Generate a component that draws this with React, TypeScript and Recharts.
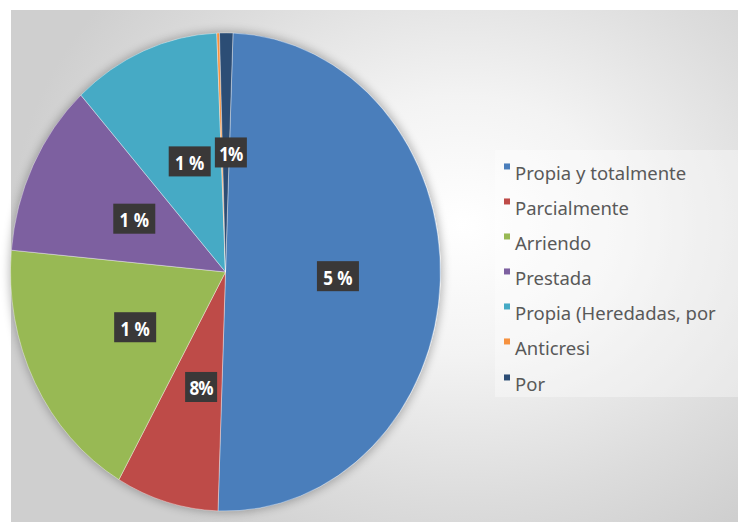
import { PieChart, Pie, Cell, Legend } from "recharts";

// Tenencia de vivienda (in %)
const categories = [
  "Propia y totalmente",
  "Parcialmente",
  "Arriendo",
  "Prestada",
  "Propia (Heredadas, por",
  "Anticresi",
  "Por",
];
const shares = [50.0, 7.7, 18.2, 11.8, 11.1, 0.2, 1.0];
// data labels exactly as printed on the chart
const labelTexts = ["5 %", "8%", "1 %", "1 %", "1 %", "", "1%"];
const colors = ["#4a7ebb", "#be4b48", "#98b954", "#7d60a0", "#46aac5", "#f69240", "#2c4d75"];

const data = categories.map((name, i) => ({ name, value: shares[i] }));

// the source picture is stretched vertically, so the pie is drawn as a circle and scaled
const STRETCH = 1.112;
const RADIAN = Math.PI / 180;

const renderLabel = (props: any) => {
  const { cx, cy, midAngle, outerRadius, index } = props;
  const text = labelTexts[index];
  if (!text) return null;
  const r = outerRadius * 0.5;
  const x = cx + 5 + r * Math.cos(-midAngle * RADIAN);
  const y = cy + r * Math.sin(-midAngle * RADIAN);
  const w = 12 + text.length * 10;
  return (
    <g>
      <rect x={x - w / 2} y={y - 13.5} width={w} height={27} fill="#3a3838" />
      <text
        x={x}
        y={y + 1}
        fill="#ffffff"
        textAnchor="middle"
        dominantBaseline="central"
        fontFamily="'Open Sans', sans-serif"
        fontWeight={700}
        fontSize={17}
        letterSpacing={text.includes(" ") ? 0 : -1}
      >
        {text}
      </text>
    </g>
  );
};

const renderLegend = () => (
  <div style={{ position: "relative", width: 238 }}>
    {categories.map((name, i) => (
      <div key={name} style={{ position: "relative", height: 35.1 }}>
        <span
          style={{
            position: "absolute",
            left: 4,
            top: 0,
            width: 6,
            height: 6,
            background: colors[i],
          }}
        />
        <span
          style={{
            position: "absolute",
            left: 15,
            top: 0,
            fontFamily: "'Noto Sans', sans-serif",
            fontSize: 18.5,
            lineHeight: "20px",
            color: "#595959",
            whiteSpace: "nowrap",
          }}
        >
          {name}
        </span>
      </div>
    ))}
  </div>
);

export default function App() {
  return (
    <div
      style={{
        position: "fixed",
        left: 0,
        top: 0,
        width: 738,
        height: 522,
        background: "#ffffff",
        overflow: "hidden",
      }}
    >
      <div
        style={{
          position: "absolute",
          left: 11,
          top: 10,
          right: 0,
          bottom: 0,
          background:
            "radial-gradient(ellipse 62% 72% at 62% 42%, #ffffff 0%, #f3f3f3 35%, #dcdcdc 75%, #cfcfcf 100%)",
        }}
      />
      <div
        style={{
          position: "absolute",
          left: 495,
          top: 150,
          width: 243,
          height: 247,
          background: "rgba(255,255,255,0.35)",
        }}
      />
      <div
        style={{
          position: "absolute",
          left: 10.5,
          top: 33,
          width: 430,
          height: 478,
          borderRadius: "50%",
          boxShadow: "0 0 8px 2px rgba(0,0,0,0.25)",
        }}
      />
      <div
        style={{
          position: "absolute",
          left: 0,
          top: 0,
          width: 738,
          height: 470,
          transform: `scaleY(${STRETCH})`,
          transformOrigin: "0 0",
        }}
      >
        <PieChart width={738} height={470} margin={{ top: 0, right: 0, bottom: 0, left: 0 }}>
          <Pie
            data={data}
            dataKey="value"
            nameKey="name"
            cx={225.5}
            cy={244.6}
            outerRadius={215}
            startAngle={88}
            endAngle={-272}
            stroke="#ffffff"
            strokeWidth={0.6}
            strokeOpacity={0.6}
            label={renderLabel}
            labelLine={false}
            isAnimationActive={false}
          >
            {data.map((entry, i) => (
              <Cell key={entry.name} fill={colors[i]} />
            ))}
          </Pie>
          <Legend
            layout="horizontal"
            verticalAlign="middle"
            content={renderLegend}
            wrapperStyle={{
              position: "absolute",
              left: 500,
              top: 163.5 / STRETCH,
              width: 238,
              transform: `scaleY(${1 / STRETCH})`,
              transformOrigin: "0 0",
            }}
          />
        </PieChart>
      </div>
    </div>
  );
}
